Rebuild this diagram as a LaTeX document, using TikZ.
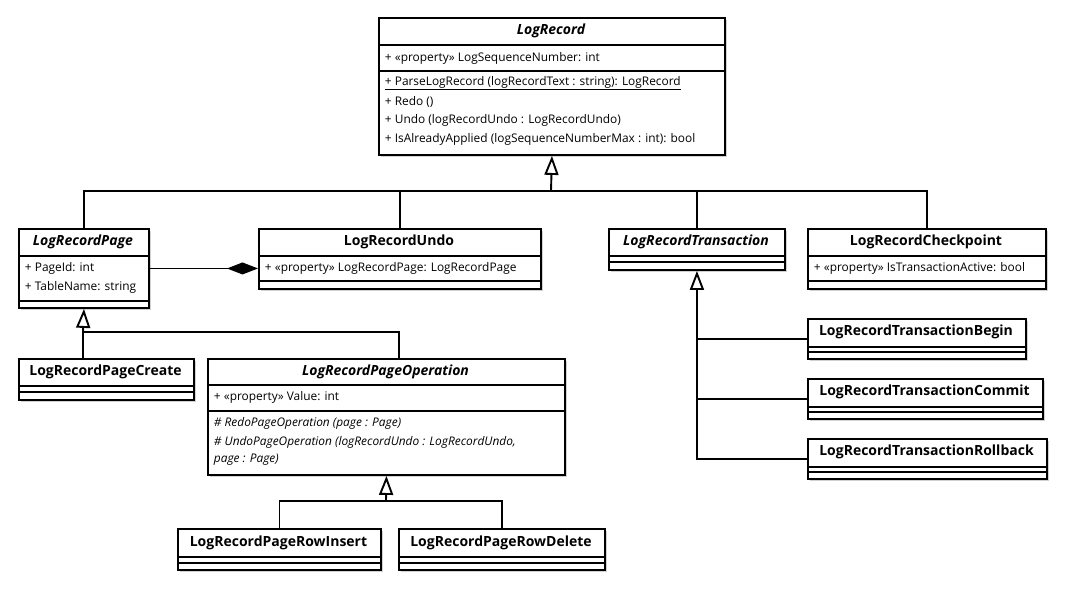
\documentclass[tikz,border=0pt]{standalone}
\usepackage{fontspec}
\setmainfont{Open Sans}
\usepackage{tikz}
\usetikzlibrary{arrows.meta,shadows}

\begin{document}
\begin{tikzpicture}[x=1pt,y=-1pt,line width=1.9pt,
  cls/.style={draw,fill=white,inner sep=0pt,anchor=north west,
    drop shadow={shadow xshift=2.5pt,shadow yshift=-2.5pt,opacity=0.18,fill=black}},
  ttl/.style={font=\fontsize{14}{16}\selectfont\bfseries},
  ttli/.style={font=\fontsize{14}{16}\selectfont\bfseries\itshape},
  mem/.style={anchor=west,inner sep=0pt,font=\fontsize{11.9}{14}\selectfont},
  memi/.style={mem,font=\fontsize{11.9}{14}\selectfont\itshape},
  gen/.style={-{Triangle[open,length=19pt,width=14pt,fill=white]}},
  comp/.style={-{Diamond[length=31pt,width=12pt]}}]
\useasboundingbox (0,0) rectangle (1066,589);

% LogRecord
\node[cls,minimum width=346pt,minimum height=137pt](lr) at (378,17){};
\draw (378,45)--(724,45) (378,71)--(724,71);
\node[ttli] (lrT) at (551,31){LogRecord};
\node[mem] (lrA) at (384,58){+ «property» LogSequenceNumber: int};
\node[mem] (lrO1) at (384,83){\underline{+ ParseLogRecord (logRecordText : string): LogRecord}};
\node[mem] (lrO2) at (384,102){+ Redo ()};
\node[mem] (lrO3) at (384,120){+ Undo (logRecordUndo : LogRecordUndo)};
\node[mem] (lrO4) at (384,139){+ IsAlreadyApplied (logSequenceNumberMax : int): bool};

% second row
\node[cls,minimum width=130pt,minimum height=79pt](page) at (18,228){};
\draw (18,256)--(148,256) (18,301)--(148,301);
\node[ttli] (pageT) at (83,242){LogRecordPage};
\node[mem] (pageA1) at (24,268){+ PageId: int};
\node[mem] (pageA2) at (24,287){+ TableName: string};

\node[cls,minimum width=282pt,minimum height=60pt](undo) at (258,228){};
\draw (258,256)--(540,256) (258,281)--(540,281);
\node[ttl] (undoT) at (399,242){LogRecordUndo};
\node[mem] (undoA) at (264,268){+ «property» LogRecordPage: LogRecordPage};

\node[cls,minimum width=176pt,minimum height=41pt](tr) at (608,228){};
\draw (608,256)--(784,256) (608,262)--(784,262);
\node[ttli] (trT) at (696,242){LogRecordTransaction};

\node[cls,minimum width=238pt,minimum height=60pt](cp) at (807,228){};
\draw (807,256)--(1045,256) (807,281)--(1045,281);
\node[ttl] (cpT) at (926,242){LogRecordCheckpoint};
\node[mem] (cpA) at (813,268){+ «property» IsTransactionActive: bool};

% transaction children
\node[cls,minimum width=218pt,minimum height=40pt](tb) at (807,318){};
\draw (807,347)--(1025,347) (807,352)--(1025,352);
\node[ttl] (tbT) at (916,332){LogRecordTransactionBegin};

\node[cls,minimum width=235pt,minimum height=40pt](tc) at (807,378){};
\draw (807,407)--(1042,407) (807,412)--(1042,412);
\node[ttl] (tcT) at (924.5,392){LogRecordTransactionCommit};

\node[cls,minimum width=239pt,minimum height=40pt](trb) at (807,438){};
\draw (807,467)--(1046,467) (807,472)--(1046,472);
\node[ttl] (trbT) at (926.5,452){LogRecordTransactionRollback};

% page children
\node[cls,minimum width=175pt,minimum height=41pt](pc) at (18,358){};
\draw (18,386)--(193,386) (18,392)--(193,392);
\node[ttl] (pcT) at (105.5,372){LogRecordPageCreate};

\node[cls,minimum width=357pt,minimum height=116pt](pop) at (207,358){};
\draw (207,385)--(564,385) (207,411)--(564,411);
\node[ttli] (popT) at (385.5,371.5){LogRecordPageOperation};
\node[mem] (popA) at (213,397){+ «property» Value: int};
\node[memi] (popO1) at (213,423){\# RedoPageOperation (page : Page)};
\node[memi] (popO2) at (213,442){\# UndoPageOperation (logRecordUndo : LogRecordUndo,};
\node[memi] (popO3) at (213,460){page : Page)};

\node[cls,minimum width=203pt,minimum height=41pt](ri) at (177,528){};
\draw (177,557)--(380,557) (177,563)--(380,563);
\node[ttl] (riT) at (278.5,542.5){LogRecordPageRowInsert};

\node[cls,minimum width=206pt,minimum height=41pt](rd) at (398,528){};
\draw (398,557)--(604,557) (398,563)--(604,563);
\node[ttl] (rdT) at (501,542.5){LogRecordPageRowDelete};

% generalizations
\coordinate (lrbus) at (551,191);
\draw[gen] (lrbus)--(lr.south);
\draw (page.north) |- (lrbus) -| (cp.north);
\draw (undo.north) |- (lrbus);
\draw (tr.north) |- (lrbus);

\draw[gen] (trb.west) -| (tr.south);
\draw (tb.west)--(tb.west -| tr.south);
\draw (tc.west)--(tc.west -| tr.south);

\coordinate (pagebus) at (83,332);
\coordinate (popin) at (399,358);
\draw[gen] (pagebus)--(page.south);
\draw (pc.north -| pagebus)--(pagebus) -| (popin);

\coordinate (popbus) at (386,501);
\draw[gen] (popbus)--(pop.south);
\draw (ri.north) |- (popbus) -| (rd.north);

% composition
\draw[comp] (page.east)--(page.east -| undo.west);
\end{tikzpicture}
\end{document}
